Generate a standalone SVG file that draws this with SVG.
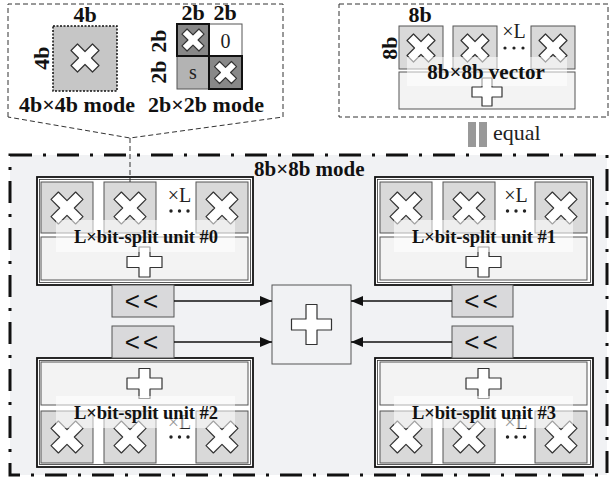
<svg xmlns="http://www.w3.org/2000/svg" xmlns:xlink="http://www.w3.org/1999/xlink" width="613" height="480" viewBox="0 0 613 480">
<style>
.dash{fill:none;stroke:#333;stroke-width:1;stroke-dasharray:5 3}
.main{fill:#f1f2f4;stroke:#111;stroke-width:3;stroke-dasharray:22 11 3 11}
.uo{fill:#fff;stroke:#111;stroke-width:1.8}
.ui{fill:#fff;stroke:#333;stroke-width:0.8}
.mul{fill:#d9d9d9;stroke:#555;stroke-width:1}
.add{fill:#f3f3f3;stroke:#555;stroke-width:1}
.shf{fill:#d9d9db;stroke:#555;stroke-width:1}
.sym{fill:#fff;stroke:#333;stroke-width:1.2;stroke-linejoin:round}
.lbg{fill:#fff;fill-opacity:0.55}
.b{font-family:"Liberation Serif",serif;font-weight:bold;fill:#111}
.r{font-family:"Liberation Serif",serif;fill:#222}
.s{font-family:"Liberation Sans",sans-serif;fill:#111}
.arr{stroke:#111;stroke-width:1.5;fill:none}
</style>
<defs>
<path id="x32" class="sym" transform="rotate(45)" d="M-5.2-17.4H5.2V-5.2H17.4V5.2H5.2V17.4H-5.2V5.2H-17.4V-5.2H-5.2Z"/>
<path id="x28" class="sym" transform="rotate(45)" d="M-4.6-15.2H4.6V-4.6H15.2V4.6H4.6V15.2H-4.6V4.6H-15.2V-4.6H-4.6Z"/>
<path id="x22" class="sym" transform="rotate(45)" d="M-3.6-12H3.6V-3.6H12V3.6H3.6V12H-3.6V3.6H-12V-3.6H-3.6Z"/>
<path id="pU" class="sym" d="M-5.5-15H5.5V-5.5H17.5V5.5H5.5V15H-5.5V5.5H-17.5V-5.5H-5.5Z"/>
<path id="pC" class="sym" d="M-5.5-20H5.5V-5.5H20V5.5H5.5V20H-5.5V5.5H-20V-5.5H-5.5Z"/>
<path id="pT" class="sym" d="M-5-14H5V-5H15V5H5V14H-5V5H-15V-5H-5Z"/>
<marker id="ah" viewBox="0 0 12 10" refX="12" refY="5" markerWidth="12" markerHeight="10" markerUnits="userSpaceOnUse" orient="auto">
<path d="M0,0L12,5L0,10Z" fill="#111"/>
</marker>
</defs>

<!-- top-left panel: 4b and 2b modes -->
<g id="mode-panel">
<path class="dash" d="M8,117V4H283V117L130,138Z"/>
<rect x="53" y="26" width="64" height="65" fill="#c6c6c6" stroke="#111" stroke-width="1.5" stroke-dasharray="2 1.5"/>
<use xlink:href="#x28" x="85" y="58"/>
<text class="b" x="85" y="22" font-size="22" text-anchor="middle">4b</text>
<text class="b" transform="translate(49,58) rotate(-90)" font-size="22" text-anchor="middle">4b</text>
<text class="b" x="77" y="112" font-size="22" text-anchor="middle">4b×4b mode</text>
<rect x="209" y="24" width="33" height="32" fill="#fff" stroke="#555" stroke-width="1"/>
<rect x="177" y="56" width="32" height="33" fill="#b3b3b3" stroke="#555" stroke-width="1"/>
<rect x="177" y="24" width="32" height="32" fill="#888" stroke="#111" stroke-width="2"/>
<rect x="209" y="56" width="33" height="33" fill="#888" stroke="#111" stroke-width="2"/>
<use xlink:href="#x22" x="193" y="40"/>
<use xlink:href="#x22" x="225.5" y="72.5"/>
<text class="r" x="225.5" y="48" font-size="20" text-anchor="middle">0</text>
<text class="r" x="193" y="79" font-size="20" text-anchor="middle" fill="#444">s</text>
<text class="b" x="193" y="20" font-size="22" text-anchor="middle">2b</text>
<text class="b" x="225" y="20" font-size="22" text-anchor="middle">2b</text>
<text class="b" transform="translate(166,41) rotate(-90)" font-size="22" text-anchor="middle">2b</text>
<text class="b" transform="translate(166,72) rotate(-90)" font-size="22" text-anchor="middle">2b</text>
<text class="b" x="206" y="112" font-size="22" text-anchor="middle">2b×2b mode</text>
</g>

<!-- top-right panel: 8b x 8b vector -->
<g id="vector-panel">
<rect class="dash" x="339" y="4" width="269" height="113"/>
<rect class="mul" x="399" y="26" width="44" height="43"/>
<rect class="mul" x="453" y="26" width="44" height="43"/>
<rect class="mul" x="531" y="26" width="44" height="43"/>
<use xlink:href="#x28" x="421" y="48"/>
<use xlink:href="#x28" x="475" y="48"/>
<use xlink:href="#x28" x="553" y="48"/>
<text class="r" x="514" y="38" font-size="20" text-anchor="middle">×L</text>
<circle cx="505" cy="48" r="1.6" fill="#222"/><circle cx="514" cy="48" r="1.6" fill="#222"/><circle cx="523" cy="48" r="1.6" fill="#222"/>
<rect class="add" x="399" y="72" width="176" height="37"/>
<use xlink:href="#pT" x="487" y="92"/>
<rect class="lbg" x="407" y="57" width="160" height="29"/>
<text class="b" x="486" y="79" font-size="21" text-anchor="middle">8b×8b vector</text>
<text class="b" x="420" y="22" font-size="22" text-anchor="middle">8b</text>
<text class="b" transform="translate(397,48) rotate(-90)" font-size="22" text-anchor="middle">8b</text>
</g>

<g id="equal">
<rect x="468" y="122" width="8" height="25" fill="#999"/>
<rect x="479" y="122" width="8" height="25" fill="#999"/>
<text class="r" x="493" y="140" font-size="22" fill="#999">equal</text>
</g>

<!-- main 8b x 8b mode panel -->
<g id="main-panel">
<rect class="main" x="10" y="155" width="597" height="320"/>
<text class="b" x="254" y="176" font-size="21">8b×8b mode</text>
</g>

<g id="unit0">
<rect class="uo" x="37" y="177" width="216" height="108"/>
<rect class="ui" x="39.5" y="179.5" width="211" height="103"/>
<rect class="mul" x="41" y="182" width="52" height="51"/>
<rect class="mul" x="104" y="182" width="52" height="51"/>
<rect class="mul" x="196" y="182" width="52" height="51"/>
<use xlink:href="#x32" x="67" y="208"/>
<use xlink:href="#x32" x="130" y="208"/>
<use xlink:href="#x32" x="222" y="208"/>
<text class="r" x="179.5" y="202" font-size="20" text-anchor="middle">×L</text>
<circle cx="171" cy="211" r="1.7" fill="#222"/><circle cx="179.5" cy="211" r="1.7" fill="#222"/><circle cx="188" cy="211" r="1.7" fill="#222"/>
<rect class="add" x="41" y="237" width="207" height="43"/>
<use xlink:href="#pU" x="144.5" y="262"/>
<rect class="lbg" x="56" y="220" width="179" height="32"/>
<text class="b" x="146" y="243" font-size="18.5" text-anchor="middle">L×bit-split unit #0</text>
</g>

<g id="unit1">
<rect class="uo" x="375" y="177" width="218" height="108"/>
<rect class="ui" x="377.5" y="179.5" width="213" height="103"/>
<rect class="mul" x="380" y="182" width="52" height="51"/>
<rect class="mul" x="443" y="182" width="52" height="51"/>
<rect class="mul" x="535" y="182" width="52" height="51"/>
<use xlink:href="#x32" x="406" y="208"/>
<use xlink:href="#x32" x="469" y="208"/>
<use xlink:href="#x32" x="561" y="208"/>
<text class="r" x="516" y="202" font-size="20" text-anchor="middle">×L</text>
<circle cx="507.5" cy="211" r="1.7" fill="#222"/><circle cx="516" cy="211" r="1.7" fill="#222"/><circle cx="524.5" cy="211" r="1.7" fill="#222"/>
<rect class="add" x="380" y="237" width="207" height="43"/>
<use xlink:href="#pU" x="483.5" y="262"/>
<rect class="lbg" x="394" y="220" width="179" height="32"/>
<text class="b" x="484" y="243" font-size="18.5" text-anchor="middle">L×bit-split unit #1</text>
</g>

<g id="unit2">
<rect class="uo" x="37" y="358" width="216" height="109"/>
<rect class="ui" x="39.5" y="360.5" width="211" height="104"/>
<rect class="add" x="41" y="362" width="207" height="43"/>
<use xlink:href="#pU" x="144.5" y="383.5"/>
<rect class="mul" x="41" y="411" width="52" height="52"/>
<rect class="mul" x="104" y="411" width="52" height="52"/>
<rect class="mul" x="196" y="411" width="52" height="52"/>
<use xlink:href="#x32" x="67" y="437"/>
<use xlink:href="#x32" x="130" y="437"/>
<use xlink:href="#x32" x="222" y="437"/>
<text class="r" x="179.5" y="429" font-size="20" text-anchor="middle">×L</text>
<circle cx="171" cy="437" r="1.7" fill="#222"/><circle cx="179.5" cy="437" r="1.7" fill="#222"/><circle cx="188" cy="437" r="1.7" fill="#222"/>
<rect class="lbg" x="56" y="396" width="179" height="32"/>
<text class="b" x="146" y="419" font-size="18.5" text-anchor="middle">L×bit-split unit #2</text>
</g>

<g id="unit3">
<rect class="uo" x="375" y="358" width="218" height="109"/>
<rect class="ui" x="377.5" y="360.5" width="213" height="104"/>
<rect class="add" x="380" y="362" width="207" height="43"/>
<use xlink:href="#pU" x="483.5" y="383.5"/>
<rect class="mul" x="380" y="411" width="52" height="52"/>
<rect class="mul" x="443" y="411" width="52" height="52"/>
<rect class="mul" x="535" y="411" width="52" height="52"/>
<use xlink:href="#x32" x="406" y="437"/>
<use xlink:href="#x32" x="469" y="437"/>
<use xlink:href="#x32" x="561" y="437"/>
<text class="r" x="516" y="429" font-size="20" text-anchor="middle">×L</text>
<circle cx="507.5" cy="437" r="1.7" fill="#222"/><circle cx="516" cy="437" r="1.7" fill="#222"/><circle cx="524.5" cy="437" r="1.7" fill="#222"/>
<rect class="lbg" x="394" y="396" width="179" height="32"/>
<text class="b" x="484" y="419" font-size="18.5" text-anchor="middle">L×bit-split unit #3</text>
</g>

<g id="shift0"><rect class="shf" x="112" y="285" width="62" height="32"/><text class="s" x="143" y="310" font-size="26" letter-spacing="3" text-anchor="middle">&lt;&lt;</text></g>
<g id="shift1"><rect class="shf" x="452" y="285" width="61" height="32"/><text class="s" x="482.5" y="310" font-size="26" letter-spacing="3" text-anchor="middle">&lt;&lt;</text></g>
<g id="shift2"><rect class="shf" x="112" y="326" width="62" height="32"/><text class="s" x="143" y="351" font-size="26" letter-spacing="3" text-anchor="middle">&lt;&lt;</text></g>
<g id="shift3"><rect class="shf" x="452" y="326" width="61" height="32"/><text class="s" x="482.5" y="351" font-size="26" letter-spacing="3" text-anchor="middle">&lt;&lt;</text></g>

<g id="final-adder">
<rect x="272" y="285" width="79" height="79" fill="#f1f2f4" stroke="#555" stroke-width="1"/>
<use xlink:href="#pC" x="311.5" y="324.5"/>
</g>

<g id="connectors">
<path d="M130,138V182" fill="none" stroke="#333" stroke-width="1" stroke-dasharray="5 3"/>
<line class="arr" x1="174" y1="301" x2="272" y2="301" marker-end="url(#ah)"/>
<line class="arr" x1="174" y1="342" x2="272" y2="342" marker-end="url(#ah)"/>
<line class="arr" x1="452" y1="301" x2="351" y2="301" marker-end="url(#ah)"/>
<line class="arr" x1="452" y1="342" x2="351" y2="342" marker-end="url(#ah)"/>
</g>
</svg>
